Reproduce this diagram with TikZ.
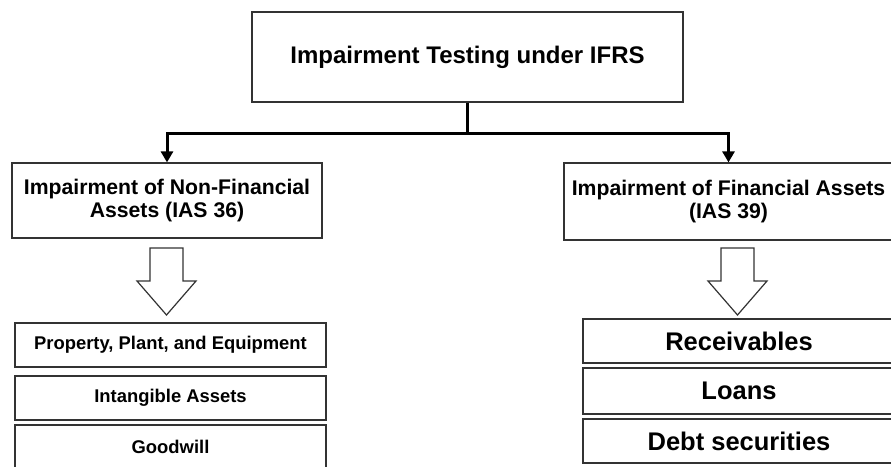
\documentclass[tikz,border=0pt]{standalone}
\usepackage{fontspec}
\setmainfont{Liberation Sans}
\usetikzlibrary{arrows.meta}
\tikzset{
  box/.style={draw=black!80, line width=1.2pt, fill=white, align=center, inner sep=0pt},
  link/.style={line width=3pt, line join=miter, -{Triangle[length=11pt,width=12pt]}},
  hollow/.style={draw=black!80, line width=1.2pt, fill=white, line join=miter},
  title/.style={font=\bfseries\fontsize{24}{28}\selectfont},
  group/.style={font=\bfseries\fontsize{21.2}{23.5}\selectfont},
  litem/.style={box, minimum width=311pt, minimum height=44pt, font=\bfseries\fontsize{18.4}{22}\selectfont},
  ritem/.style={box, minimum width=312pt, minimum height=44pt, font=\bfseries\fontsize{25.5}{29}\selectfont}
}
\begin{document}
\begin{tikzpicture}[x=1pt,y=-1pt]
  \clip (0,0) rectangle (891,466);
  \node[box, title, minimum width=431pt, minimum height=90pt] (top) at (467.5,57) {Impairment Testing under IFRS};
  \node[box, group, minimum width=310pt, minimum height=75pt] (nonfin) at (167,200.5) {Impairment of Non-Financial\\Assets (IAS 36)};
  \node[box, group, minimum width=329pt, minimum height=77pt] (fin) at (728.5,201.5) {Impairment of Financial Assets\\(IAS 39)};
  \node[litem] (ppe) at (170.5,345) {Property, Plant, and Equipment};
  \node[litem] (intang) at (170.5,398) {Intangible Assets};
  \node[litem] (goodwill) at (170.5,447) {Goodwill};
  \node[ritem] (recv) at (739,341) {Receivables};
  \node[ritem, minimum height=46pt] (loans) at (739,391) {Loans};
  \node[ritem] (debt) at (739,441) {Debt securities};
  \draw[link] (top.south) -- ++(0,31) -| (nonfin.north);
  \draw[link] (top.south) -- ++(0,31) -| (fin.north);
  \draw[hollow] (150,248) -- ++(33,0) -- ++(0,33) -- ++(13,0) -- ++(-29.5,34) -- ++(-29.5,-34) -- ++(13,0) -- cycle;
  \draw[hollow] (721,248) -- ++(33,0) -- ++(0,33) -- ++(13,0) -- ++(-29.5,34) -- ++(-29.5,-34) -- ++(13,0) -- cycle;
\end{tikzpicture}
\end{document}
